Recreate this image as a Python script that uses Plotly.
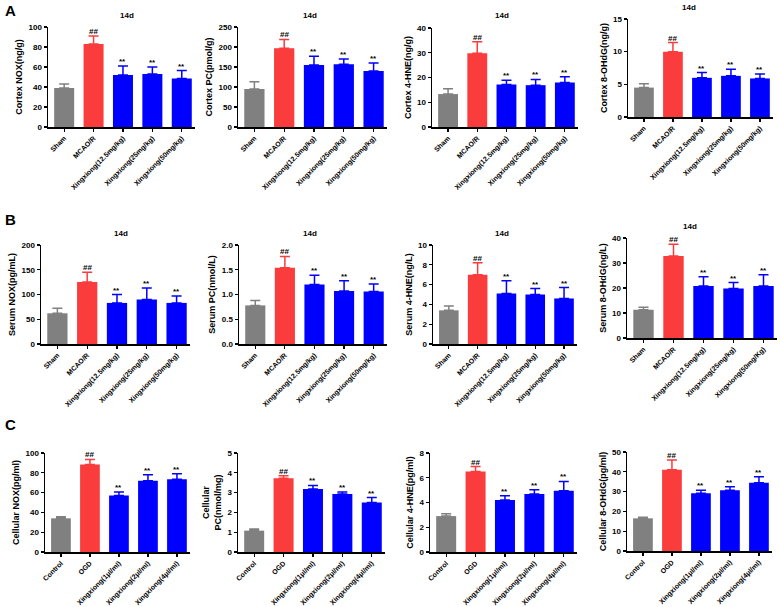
import plotly.graph_objects as go

# ---------------- data ----------------
groups_ab = ["Sham", "MCAO/R", "Xingxiong(12.5mg/kg)", "Xingxiong(25mg/kg)", "Xingxiong(50mg/kg)"]
groups_b4 = ["Sham", "MCAO/R", "Xingxiong(12.5mg/kg)", "Xingxiong(25mg/kg)", "Xingxiong(50mg/Kg)"]
groups_c = ["Control", "OGD", "Xingxiong(1μl/ml)", "Xingxiong(2μl/ml)", "Xingxiong(4μl/ml)"]

cortex_nox_mean = [39, 83, 52, 53, 48.5]
cortex_nox_err = [4, 8, 9, 7, 8]
cortex_pc_mean = [95, 197, 155, 157, 140]
cortex_pc_err = [18, 22, 22, 13, 20]
cortex_hne_mean = [13.3, 29.8, 17.2, 16.9, 18.0]
cortex_hne_err = [2.2, 4.6, 1.7, 2.3, 2.3]
cortex_ohdg_mean = [4.5, 10.0, 6.0, 6.3, 5.9]
cortex_ohdg_err = [0.6, 1.4, 0.8, 1.0, 0.7]

serum_nox_mean = [62, 125, 83, 90, 83]
serum_nox_err = [10, 20, 17, 23, 14]
serum_pc_mean = [0.78, 1.54, 1.20, 1.07, 1.06]
serum_pc_err = [0.10, 0.23, 0.19, 0.21, 0.15]
serum_hne_mean = [3.4, 7.0, 5.1, 5.0, 4.6]
serum_hne_err = [0.45, 1.2, 1.3, 0.6, 1.1]
serum_ohdg_mean = [11.3, 32.8, 20.8, 19.8, 20.8]
serum_ohdg_err = [1.0, 4.7, 3.7, 2.4, 4.5]

cell_nox_mean = [34, 88.5, 57, 72, 73.5]
cell_nox_err = [1.5, 5, 3.5, 6, 5.5]
cell_pc_mean = [1.08, 3.73, 3.18, 2.93, 2.50]
cell_pc_err = [0.08, 0.12, 0.18, 0.10, 0.25]
cell_hne_mean = [2.9, 6.5, 4.2, 4.68, 4.95]
cell_hne_err = [0.2, 0.4, 0.35, 0.35, 0.75]
cell_ohdg_mean = [16.5, 41, 29.2, 30.7, 34.5]
cell_ohdg_err = [0.5, 5, 1.5, 1.8, 3]

signif = ["", "##", "**", "**", "**"]

y_titles = ["Cortex NOX(ng/g)", "Cortex PC(pmol/g)", "Cortex 4-HNE(ng/g)", "Cortex 8-OHdG(ng/g)",
            "Serum NOX(pg/mL)", "Serum PC(nmol/L)", "Serum 4-HNE(ng/L)", "Serum 8-OHdG(ng/L)",
            "Cellular NOX(pg/ml)", "Cellular<br>PC(nmol/mg)", "Cellular 4-HNE(pg/ml)", "Cellular 8-OHdG(pg/ml)"]
y_max = [100, 250, 40, 15, 200, 2.0, 10, 40, 100, 5, 8, 50]
y_step = [20, 50, 10, 5, 50, 0.5, 2, 10, 20, 1, 2, 10]
panel_title = "14d"

# ---------------- layout geometry (px, in window coordinates) ----------------
W, H = 780, 607
# left, right, top, bottom
geom = [
    (48, 195, 27, 127), (238, 387, 27, 127), (432, 578, 28, 127), (628, 773, 19, 117),
    (41, 190, 245, 344), (239, 387, 245, 344), (433, 577, 245, 344), (627, 777, 238, 338),
    (45, 190, 453, 552), (238, 385, 453, 552), (430, 577, 453, 552), (627, 772, 452, 551),
]


def px_x(v):
    return v / W


def px_y(v):
    return 1 - v / H


means = [cortex_nox_mean, cortex_pc_mean, cortex_hne_mean, cortex_ohdg_mean,
         serum_nox_mean, serum_pc_mean, serum_hne_mean, serum_ohdg_mean,
         cell_nox_mean, cell_pc_mean, cell_hne_mean, cell_ohdg_mean]
errs = [cortex_nox_err, cortex_pc_err, cortex_hne_err, cortex_ohdg_err,
        serum_nox_err, serum_pc_err, serum_hne_err, serum_ohdg_err,
        cell_nox_err, cell_pc_err, cell_hne_err, cell_ohdg_err]
cats = [groups_ab] * 7 + [groups_b4] + [groups_c] * 4

colors = ["#808080", "#FA3C3C", "#0000FF", "#0000FF", "#0000FF"]
FONT = "Arial, Liberation Sans, sans-serif"

fig = go.Figure()
annotations = []
layout = {}

for i in range(12):
    ax = "" if i == 0 else str(i + 1)
    xref, yref = "x" + ax, "y" + ax
    l, r, t, b = geom[i]
    for k in range(5):
        fig.add_trace(go.Bar(
            x=[k], y=[means[i][k]], width=0.68,
            marker=dict(color=colors[k], line=dict(width=0)),
            error_y=dict(type="data", symmetric=False, array=[errs[i][k]], arrayminus=[0],
                         color=colors[k], thickness=1.5, width=5),
            xaxis=xref, yaxis=yref, showlegend=False, hoverinfo="y",
        ))
        if signif[k]:
            annotations.append(dict(
                x=k, y=means[i][k] + errs[i][k], xref=xref, yref=yref,
                text="<b>%s</b>" % signif[k], showarrow=False, yanchor="bottom",
                borderpad=0, yshift=-1, font=dict(family=FONT, size=8, color="black")))
    tick_vals = []
    v = 0.0
    while v <= y_max[i] + 1e-9:
        tick_vals.append(round(v, 3))
        v += y_step[i]
    layout["xaxis" + ax] = dict(
        domain=[px_x(l), min(px_x(r), 1.0)], anchor=yref, range=[-0.55, 4.45], automargin=False,
        tickmode="array", tickvals=list(range(5)), ticktext=cats[i], tickangle=-45,
        tickfont=dict(family=FONT, size=7, color="black", weight="bold"),
        showline=True, linecolor="black", linewidth=1.5, ticks="outside",
        ticklen=3, tickwidth=1.2, tickcolor="black", showgrid=False, zeroline=False,
        fixedrange=True,
    )
    layout["yaxis" + ax] = dict(
        domain=[px_y(b), px_y(t)], anchor=xref, range=[0, y_max[i]], automargin=False,
        tickmode="array", tickvals=tick_vals,
        ticktext=[("%.1f" % tv) if y_step[i] < 1 else ("%g" % tv) for tv in tick_vals],
        tickfont=dict(family=FONT, size=8, color="black", weight="bold"),
        showline=True, linecolor="black", linewidth=1.5, ticks="outside",
        ticklen=3, tickwidth=1.2, tickcolor="black", showgrid=False, zeroline=False,
        title=dict(text=y_titles[i], font=dict(family=FONT, size=9, color="black", weight="bold"),
                   standoff=4),
        fixedrange=True,
    )
    if i < 8:
        annotations.append(dict(
            x=px_x((l + r) / 2 - 3), y=px_y(t - 12), xref="paper", yref="paper",
            text="<b>%s</b>" % panel_title, showarrow=False, yanchor="middle",
            font=dict(family=FONT, size=8, color="black")))

for letter, (lx, ly) in zip(["A", "B", "C"], [(3, 10), (3, 219), (3, 424)]):
    annotations.append(dict(
        x=px_x(lx), y=px_y(ly), xref="paper", yref="paper", text="<b>%s</b>" % letter,
        showarrow=False, xanchor="left", yanchor="middle",
        font=dict(family=FONT, size=15, color="black")))

fig.update_layout(
    width=W, height=H, margin=dict(l=0, r=0, t=0, b=0),
    paper_bgcolor="white", plot_bgcolor="white", barmode="overlay",
    annotations=annotations, **layout,
)

# remove the default page margin so the 780x607 figure fills the window exactly
fig.write_html("out.html",
               config={"displayModeBar": False, "staticPlot": True},
               post_script="document.body.style.margin='0';"
                           "document.documentElement.style.overflow='hidden';")
